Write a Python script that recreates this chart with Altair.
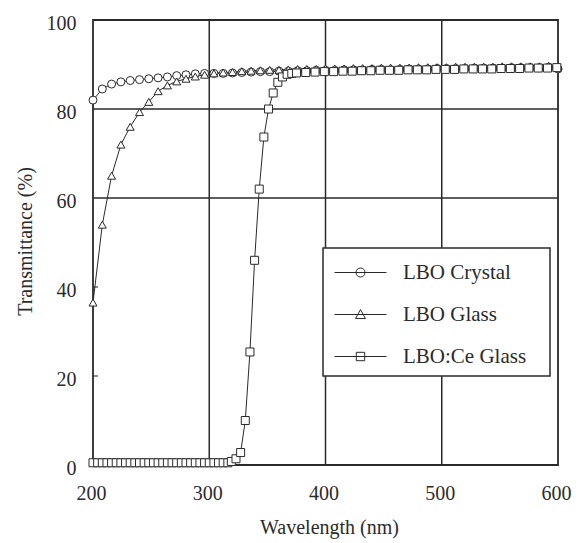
import altair as alt
import pandas as pd

# ---- data ----
series_names = ["LBO Crystal", "LBO Glass", "LBO:Ce Glass"]

crystal_x = [200, 208, 216, 224, 232, 240, 248, 256, 264, 272, 280, 288, 296, 304, 312, 320, 328,
             336, 344, 352, 360, 368, 376, 384, 392, 400, 408, 416, 424, 432, 440, 448, 456, 464,
             472, 480, 488, 496, 504, 512, 520, 528, 536, 544, 552, 560, 568, 576, 584, 592, 600]
crystal_y = [82.0, 84.5, 85.6, 86.1, 86.4, 86.6, 86.8, 87.0, 87.2, 87.5, 87.7, 87.9, 88.0, 88.0,
             88.0, 88.1, 88.2, 88.3, 88.4, 88.4, 88.5, 88.5, 88.6, 88.6, 88.7, 88.7, 88.7, 88.8,
             88.8, 88.8, 88.9, 88.9, 88.8, 88.9, 89.0, 89.0, 89.0, 89.1, 89.1, 89.1, 89.1, 89.2,
             89.2, 89.2, 89.2, 89.3, 89.3, 89.3, 89.3, 89.4, 89.0]

glass_x = [200, 208, 216, 224, 232, 240, 248, 256, 264, 272, 280, 288, 296, 304, 312, 320, 328,
           336, 344, 352, 360, 368, 376, 384, 392, 400, 408, 416, 424, 432, 440, 448, 456, 464,
           472, 480, 488, 496, 504, 512, 520, 528, 536, 544, 552, 560, 568, 576, 584, 592, 600]
glass_y = [36.5, 54.0, 65.0, 72.0, 76.0, 79.3, 81.6, 84.0, 85.3, 86.2, 86.8, 87.3, 87.7, 88.0,
           88.2, 88.3, 88.5, 88.6, 88.7, 88.8, 88.8, 88.9, 89.0, 89.0, 89.0, 89.1, 89.1, 89.1,
           89.2, 89.2, 89.2, 89.3, 89.3, 89.3, 89.3, 89.4, 89.4, 89.4, 89.4, 89.5, 89.5, 89.5,
           89.5, 89.5, 89.6, 89.6, 89.6, 89.6, 89.6, 89.7, 89.7]

ce_x = [200, 204, 208, 212, 216, 220, 224, 228, 232, 236, 240, 244, 248, 252, 256, 260, 264,
        268, 272, 276, 280, 284, 288, 292, 296, 300, 304, 308, 312, 316, 319, 323, 327, 331,
        335, 339, 343, 347, 351, 355, 359, 363, 367, 371, 375, 383, 391, 399, 407, 415, 423,
        431, 439, 447, 455, 463, 471, 479, 487, 495, 503, 511, 519, 527, 535, 543, 551, 559,
        567, 575, 583, 591, 599]
ce_y = [0.5, 0.5, 0.5, 0.5, 0.5, 0.5, 0.5, 0.5, 0.5, 0.5, 0.5, 0.5, 0.5, 0.5, 0.5, 0.5, 0.5,
        0.5, 0.5, 0.5, 0.5, 0.5, 0.5, 0.5, 0.5, 0.5, 0.5, 0.5, 0.5, 0.5, 0.8, 1.4, 2.8, 10.0,
        25.4, 46.0, 62.0, 73.7, 80.0, 83.6, 86.0, 87.2, 87.8, 88.0, 88.1, 88.2, 88.3, 88.4,
        88.4, 88.5, 88.5, 88.6, 88.6, 88.7, 88.7, 88.7, 88.8, 88.8, 88.8, 88.9, 88.9, 88.9,
        89.0, 89.0, 89.0, 89.0, 89.1, 89.1, 89.1, 89.2, 89.2, 89.2, 89.3]

x_ticks = [200, 300, 400, 500, 600]
y_ticks = [0, 20, 40, 60, 80, 100]
grid_x = [300, 400, 500]
grid_y = [60, 80]
inner_tick_y = [20, 40]

# ---- tables ----
rows = []
for name, xs, ys in [(series_names[0], crystal_x, crystal_y),
                     (series_names[1], glass_x, glass_y),
                     (series_names[2], ce_x, ce_y)]:
    for xv, yv in zip(xs, ys):
        rows.append({"x": xv, "y": yv, "series": name})
df = pd.DataFrame(rows)
gx = pd.DataFrame({"x": grid_x})
gy = pd.DataFrame({"y": grid_y})
ty = pd.DataFrame({"y": inner_tick_y, "x": [200] * len(inner_tick_y)})

INK = "#2a2a2a"
TXT = "#2b2b2b"
FONT = "Liberation Serif"

X = alt.X("x:Q", scale=alt.Scale(domain=[200, 600], nice=False, zero=False),
          axis=alt.Axis(values=x_ticks, grid=False, ticks=False, tickSize=0, domain=False,
                        labelFlush=False, labelOverlap=False,
                        labelPadding=18, labelOffset=-2, title="Wavelength (nm)",
                        titleX=236, titleY=62, titleBaseline="middle", titleAnchor="start",
                        titleAlign="center"))
Y = alt.Y("y:Q", scale=alt.Scale(domain=[0, 100], nice=False),
          axis=alt.Axis(values=y_ticks, grid=False, ticks=False, tickSize=0, domain=False,
                        labelFlush=False, labelOverlap=False,
                        labelPadding=17, labelOffset=3, title="Transmittance (%)",
                        titleX=-68, titleY=221, titleBaseline="middle", titleAlign="center",
                        titleAngle=270))

vgrid = alt.Chart(gx).mark_rule(color=INK, strokeWidth=1.5).encode(x=X)
hgrid = alt.Chart(gy).mark_rule(color=INK, strokeWidth=1.5).encode(y=Y)
ticks = alt.Chart(ty).mark_tick(orient="horizontal", size=10, thickness=1.5, color=INK,
                                clip=True).encode(x=X, y=Y)

lines = alt.Chart(df).mark_line(color=INK, strokeWidth=1).encode(
    x=X, y=Y, detail="series:N", order="x:Q")

points = alt.Chart(df).mark_point(fill="white", stroke=INK, strokeWidth=1, opacity=1,
                                  fillOpacity=1, size=64).encode(
    x=X, y=Y,
    shape=alt.Shape("series:N",
                    scale=alt.Scale(domain=series_names,
                                    range=["circle", "triangle-up", "square"]),
                    legend=None))

legend_paths = [
    "M-1.733,0L1.733,0M-0.3,0A0.3,0.3,0,1,0,0.3,0A0.3,0.3,0,1,0,-0.3,0Z",
    "M-1.733,0L1.733,0M0,-0.33L0.33,0.27L-0.33,0.27Z",
    "M-1.733,0L1.733,0M-0.28,-0.28L0.28,-0.28L0.28,0.28L-0.28,0.28Z",
]
legend_layer = alt.Chart(df).mark_point(opacity=0, size=900).encode(
    x=X, y=Y,
    shape=alt.Shape("series:N",
                    scale=alt.Scale(domain=series_names, range=legend_paths),
                    legend=alt.Legend(title="\u00a0", titleOrient="right", titlePadding=15,
                                      titleFontSize=20, titleFont=FONT,
                                      orient="none", legendX=230, legendY=228,
                                      padding=9, symbolOffset=13, labelOffset=27,
                                      rowPadding=16, fillColor="white", strokeColor=INK,
                                      symbolSize=900, symbolStrokeWidth=1,
                                      symbolStrokeColor=INK, symbolFillColor="white",
                                      symbolOpacity=1, labelFont=FONT, labelFontSize=21,
                                      labelColor=TXT)))

chart = alt.layer(vgrid, hgrid, ticks, lines, points, legend_layer).resolve_scale(
    shape="independent"
).properties(
    width=465, height=445,
    autosize=alt.AutoSizeParams(type="none"),
    padding={"left": 93, "top": 20, "right": 21, "bottom": 78},
    background="white",
).configure_view(
    stroke=INK, strokeWidth=1.8
).configure_axis(
    labelFont=FONT, labelFontSize=20, labelColor=TXT,
    titleFont=FONT, titleFontSize=20, titleColor=TXT, titleFontWeight="normal"
).configure_legend(
    strokeWidth=1.5
)

chart.save("out.html", embed_options={"renderer": "svg", "actions": False})
